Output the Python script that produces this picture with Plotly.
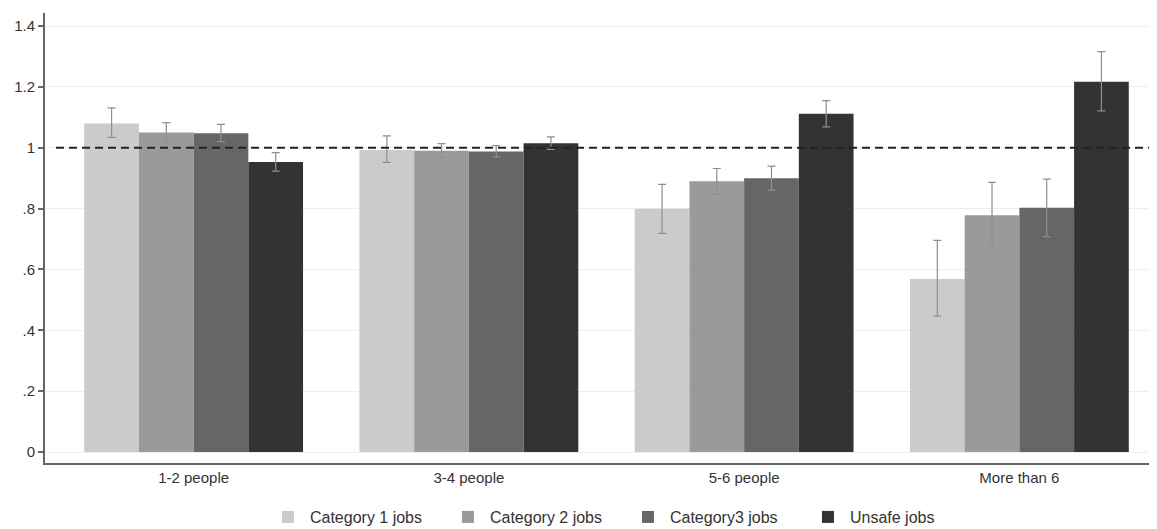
import plotly.graph_objects as go

categories = ["1-2 people", "3-4 people", "5-6 people", "More than 6"]
series_names = ["Category 1 jobs", "Category 2 jobs", "Category3 jobs", "Unsafe jobs"]

cat1_vals = [1.08, 0.993, 0.800, 0.569]
cat2_vals = [1.050, 0.990, 0.890, 0.778]
cat3_vals = [1.048, 0.988, 0.900, 0.803]
unsafe_vals = [0.953, 1.015, 1.112, 1.217]

cat1_hi = [1.131, 1.039, 0.880, 0.696]
cat1_lo = [1.034, 0.952, 0.719, 0.447]
cat2_hi = [1.083, 1.014, 0.932, 0.886]
cat2_lo = [1.018, 0.968, 0.847, 0.677]
cat3_hi = [1.077, 1.007, 0.940, 0.897]
cat3_lo = [1.020, 0.970, 0.861, 0.708]
unsafe_hi = [0.984, 1.036, 1.155, 1.316]
unsafe_lo = [0.923, 0.995, 1.069, 1.121]

reference_value = 1.0
ytick_vals = [0, 0.2, 0.4, 0.6, 0.8, 1.0, 1.2, 1.4]
ytick_text = ["0", ".2", ".4", ".6", ".8", "1", "1.2", "1.4"]

colors = ["#cbcbcb", "#9a9a9a", "#666666", "#333333"]

values = [cat1_vals, cat2_vals, cat3_vals, unsafe_vals]
his = [cat1_hi, cat2_hi, cat3_hi, unsafe_hi]
los = [cat1_lo, cat2_lo, cat3_lo, unsafe_lo]

fig = go.Figure()
for name, vals, hi, lo, col in zip(series_names, values, his, los, colors):
    fig.add_trace(go.Bar(
        name=name,
        x=categories,
        y=vals,
        marker=dict(color=col, line=dict(width=0)),
        error_y=dict(
            type="data",
            symmetric=False,
            array=[h - v for h, v in zip(hi, vals)],
            arrayminus=[v - l for v, l in zip(vals, lo)],
            color="#859490",
            thickness=1.2,
            width=4,
        ),
    ))

fig.add_shape(
    type="line", xref="x", yref="y",
    x0=-0.5, x1=3.5, y0=reference_value, y1=reference_value,
    line=dict(color="#222222", width=2, dash="8px,5px"),
    layer="above",
)

font_family = "Arial, 'Liberation Sans', sans-serif"

fig.update_layout(
    width=1149, height=521,
    margin=dict(l=37, r=0, t=5, b=66, autoexpand=False),
    paper_bgcolor="white",
    plot_bgcolor="white",
    barmode="group",
    bargap=0.205,
    bargroupgap=0,
    font=dict(family=font_family, size=15, color="#333333"),
    showlegend=True,
    legend=dict(
        orientation="h",
        xref="paper", x=0.1987, xanchor="left",
        yref="container", y=0.023, yanchor="middle",
        font=dict(size=16, color="#333333"),
        traceorder="normal",
        itemwidth=34,
        entrywidth=131,
        entrywidthmode="pixels",
    ),
    xaxis=dict(
        type="category",
        range=[-0.54, 3.5],
        showline=True, linecolor="#666666", linewidth=2,
        ticks="", showgrid=False,
        automargin=False,
        tickfont=dict(size=15, color="#333333"),
    ),
    yaxis=dict(
        range=[-0.036, 1.443],
        tickvals=ytick_vals, ticktext=ytick_text,
        showline=True, linecolor="#666666", linewidth=2,
        ticks="outside", ticklen=5, tickcolor="#666666", tickwidth=1.5,
        showgrid=True, gridcolor="#eeeeee", gridwidth=1,
        zeroline=False,
        automargin=False,
        tickfont=dict(size=15, color="#333333"),
    ),
)

fig.write_html("out.html")
